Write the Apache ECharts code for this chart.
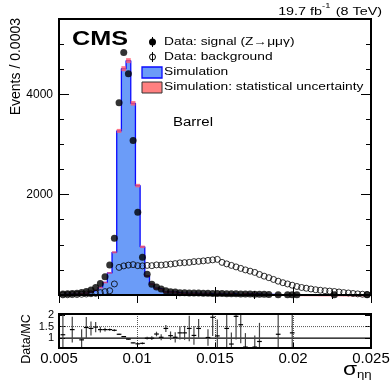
<!DOCTYPE html>
<html><head><meta charset="utf-8">
<script src="https://cdn.jsdelivr.net/npm/echarts@6/dist/echarts.min.js"></script>
<style>html,body{margin:0;padding:0;background:#fff}#c{width:390px;height:381px}</style>
</head><body><div id="c"></div>
<script>
const FONT = '"Liberation Sans", Arial, Helvetica, sans-serif';

// ---- data (bins of 0.0003 starting at 0.0051) ----
const binWidth = 0.0003;
const firstBinEdge = 0.0051;
const xMin = 0.005, xMax = 0.025;
const yMainMax = 5500;

const simValues = [15,18,22,26,35,48,70,100,150,250,440,850,3270,4510,4670,3820,2180,960,380,215,
  135,115,62,60,58,38,36,30,36,27,30,33,17,27,24,19,35,12,14,32,24,26,17,14,12,10,5,8,6,4,5,4,3,3,3,2,2,2,2,2,1,1,1,1,1,1];
const simErrors = [4,4,5,5,6,7,8,9,10,12,15,20,40,50,50,45,35,25,15,12,
  10,9,7,7,7,6,6,5,6,5,5,6,4,5,5,4,6,3,4,6,5,5,4,4,3,3,2,3,2,2,2,2,2,2,2,1,1,1,1,1,1,1,1,1,1,1];
const signalValues = [20,25,30,36,50,70,100,150,230,365,600,1130,3830,4830,4410,3080,1650,750,415,215,
  160,120,87,67,60,47,44,42,40,38,36,34,32,30,28,27,26,24,22,20,18,16,15,14,12,null,6,null,6,5,5,
  null,null,null,null,null,null,null,3,null,null,null,null,null,null,3];
const backgroundValues = [3,5,8,10,15,20,25,33,47,67,85,220,550,580,595,605,585,580,590,585,
  600,595,605,615,625,640,645,650,665,670,680,690,700,710,650,620,590,560,530,500,475,450,410,375,345,310,275,245,220,195,170,150,135,120,105,95,85,78,70,60,48,40,30,22,15,10];

const ratioX = [0.00525,0.00585,0.00645,0.00675,0.00705,0.00735,0.00765,0.00795,0.00825,0.00855,0.00885,0.00915,0.00945,0.00975,
  0.01005,0.01035,0.01065,0.01095,0.01125,0.01155,0.01185,0.01215,0.01245,0.01275,0.01305,0.01335,0.01365,0.01395,0.01455,0.01485,
  0.01515,0.01575,0.01605,0.01635,0.01665,0.01695,0.01755,0.01785,0.01905,0.01995];
const ratioY = [1.15,1.37,0.93,1.46,1.42,1.48,1.37,1.37,1.37,1.34,1.17,1.07,0.96,0.80,
  0.76,0.78,1.00,1.00,1.18,1.04,1.42,1.11,1.04,1.23,1.23,1.42,1.12,1.42,1.03,1.90,
  1.10,1.42,0.75,1.94,1.58,0.62,0.62,0.86,1.17,1.23];
const ratioErr = [0.9,0.55,0.45,0.45,0.3,0.22,0.12,0.08,0.05,0.04,0.02,0.02,0.02,0.02,
  0.03,0.04,0.06,0.08,0.1,0.13,0.15,0.18,0.22,0.28,0.3,0.55,0.4,0.4,0.35,0.8,
  0.7,0.9,0.5,1.0,0.8,0.6,0.5,0.8,1.0,1.0];
const ratioMin = 0.58, ratioMax = 2.04;
const ratioTicks = [1, 1.5, 2];
const refLines = [{v:1, type:'solid'}, {v:1.5, type:'dotted'}];

// ---- derived series data ----
const simStep = [[firstBinEdge, 0]];
simValues.forEach((v, i) => simStep.push([firstBinEdge + i * binWidth, v]));
simStep.push([firstBinEdge + simValues.length * binWidth, simValues[simValues.length - 1]]);
const simBoxes = simValues.map((v, i) => [firstBinEdge + i * binWidth, firstBinEdge + (i + 1) * binWidth, Math.max(0, v - simErrors[i]), v + simErrors[i]]);
const sigPts = [], bkgPts = [];
signalValues.forEach((v, i) => { if (v !== null) sigPts.push([firstBinEdge + (i + 0.5) * binWidth, v]); });
backgroundValues.forEach((v, i) => { if (v !== null) bkgPts.push([firstBinEdge + (i + 0.5) * binWidth, v]); });
const ratioData = ratioX.map((x, i) => [x, ratioY[i], ratioErr[i]]);

const chart = echarts.init(document.getElementById('c'), null, {renderer: 'canvas'});
const tickStyle = {color: '#000', width: 1};

function yAx(grid, pos, interval, len, labels) {
  return {
    type: 'value', gridIndex: grid, position: pos, min: 0, max: yMainMax, interval: interval,
    axisLine: {show: false}, splitLine: {show: false},
    axisTick: {show: true, inside: true, length: len, lineStyle: tickStyle},
    axisLabel: labels ? {show: true, color: '#000', fontFamily: FONT, fontSize: 12, margin: 6,
      formatter: v => (v > 0 && v % 2000 === 0) ? String(v) : ''} : {show: false}
  };
}

const option = {
  animation: false,
  backgroundColor: '#fff',
  grid: [
    {left: 59, top: 19, width: 312, height: 276, show: true, borderColor: '#000', borderWidth: 2, z: 10, outerBoundsMode: 'none', containLabel: false},
    {left: 59, top: 314, width: 312, height: 34, show: true, borderColor: '#000', borderWidth: 2, z: 10, outerBoundsMode: 'none', containLabel: false}
  ],
  xAxis: [
    {type: 'value', gridIndex: 0, min: xMin, max: xMax, interval: 0.005, position: 'bottom',
      axisLine: {show: false}, splitLine: {show: false}, axisLabel: {show: false},
      axisTick: {show: true, inside: true, length: 8, lineStyle: tickStyle},
      minorTick: {show: true, splitNumber: 2, length: 4, lineStyle: tickStyle}},
    {type: 'value', gridIndex: 0, min: xMin, max: xMax, interval: 0.005, position: 'top',
      axisLine: {show: false}, splitLine: {show: false}, axisLabel: {show: false},
      axisTick: {show: true, inside: true, length: 8, lineStyle: tickStyle},
      minorTick: {show: true, splitNumber: 2, length: 4, lineStyle: tickStyle}},
    {type: 'value', gridIndex: 1, min: xMin, max: xMax, interval: 0.005, position: 'bottom',
      axisLine: {show: false},
      splitLine: {show: true, lineStyle: {color: '#555', type: 'dotted', width: 1}},
      axisTick: {show: true, inside: true, length: 5, lineStyle: tickStyle},
      axisLabel: {show: true, color: '#000', fontFamily: FONT, fontSize: 15, margin: 3}}
  ],
  yAxis: [
    yAx(0, 'left', 2000, 10, true),
    yAx(0, 'left', 500, 5, false),
    yAx(0, 'right', 2000, 10, false),
    yAx(0, 'right', 500, 5, false),
    {type: 'value', gridIndex: 1, position: 'left', min: ratioMin, max: ratioMax,
      axisLine: {show: false}, splitLine: {show: false},
      axisTick: {show: true, inside: true, length: 6, lineStyle: tickStyle, customValues: ratioTicks},
      axisLabel: {show: true, color: '#000', fontFamily: FONT, fontSize: 11, margin: 5, customValues: ratioTicks}},
    {type: 'value', gridIndex: 1, position: 'right', min: ratioMin, max: ratioMax,
      axisLine: {show: false}, splitLine: {show: false},
      axisTick: {show: true, inside: true, length: 6, lineStyle: tickStyle, customValues: ratioTicks},
      axisLabel: {show: false}}
  ],
  series: [
    {type: 'line', name: 'Simulation', xAxisIndex: 0, yAxisIndex: 0, data: simStep, step: 'end',
      symbol: 'none', silent: true, z: 2,
      lineStyle: {color: '#0a0aff', width: 1.3}, areaStyle: {color: '#6b9cf8', opacity: 1}},
    {type: 'custom', name: 'Simulation: statistical uncertainty', xAxisIndex: 0, yAxisIndex: 0, z: 3, silent: true,
      data: simBoxes, encode: {x: [0, 1], y: [2, 3]},
      renderItem: (params, api) => {
        const p0 = api.coord([api.value(0), api.value(3)]);
        const p1 = api.coord([api.value(1), api.value(2)]);
        return {type: 'rect', shape: {x: p0[0], y: p0[1], width: p1[0] - p0[0], height: Math.max(p1[1] - p0[1], 1.5)},
          style: {fill: 'rgba(255,85,110,0.8)'}};
      }},
    {type: 'scatter', name: 'Data: background', xAxisIndex: 0, yAxisIndex: 0, data: bkgPts, z: 4, silent: true,
      symbol: 'circle', symbolSize: 6,
      itemStyle: {color: 'rgba(0,0,0,0)', borderColor: '#000', borderWidth: 1}},
    {type: 'scatter', name: 'Data: signal', xAxisIndex: 0, yAxisIndex: 0, data: sigPts, z: 5, silent: true,
      symbol: 'circle', symbolSize: 7, itemStyle: {color: '#000'}},
    ...refLines.map(r => ({type: 'line', xAxisIndex: 2, yAxisIndex: 4, data: [[xMin, r.v], [xMax, r.v]],
      symbol: 'none', silent: true, z: 2, lineStyle: {color: r.type === 'solid' ? '#000' : '#555', width: r.type === 'solid' ? 1.3 : 1, type: r.type}})),
    {type: 'custom', name: 'Data/MC', xAxisIndex: 2, yAxisIndex: 4, z: 4, silent: true,
      data: ratioData, encode: {x: 0, y: 1},
      renderItem: (params, api) => {
        const x = api.value(0), r = api.value(1), e = api.value(2);
        const cs = params.coordSys;
        const top = cs.y, bot = cs.y + cs.height;
        const pc = api.coord([x, r]);
        const pl = api.coord([x - binWidth / 2, r]);
        const pr = api.coord([x + binWidth / 2, r]);
        let yHi = api.coord([x, r + e])[1], yLo = api.coord([x, r - e])[1];
        yHi = Math.max(yHi, top); yLo = Math.min(yLo, bot);
        const ch = [{type: 'line', shape: {x1: pc[0], y1: yHi, x2: pc[0], y2: yLo}, style: {stroke: '#444', lineWidth: 1.2}}];
        if (pc[1] >= top && pc[1] <= bot) ch.push({type: 'line', shape: {x1: pl[0], y1: pc[1], x2: pr[0], y2: pc[1]}, style: {stroke: '#000', lineWidth: 1.2}});
        return {type: 'group', children: ch};
      }}
  ],
  graphic: [
    {type: 'text', x: 72, y: 39.5, scaleX: 1.2, z: 100, style: {text: 'CMS', font: 'bold 21px ' + FONT, fill: '#000', align: 'left', verticalAlign: 'middle'}},
    {type: 'text', x: 382, y: 10, scaleX: 1.25, z: 100, style: {
      text: '{n|19.7 fb}{s|-1}{n| (8 TeV)}', align: 'right', verticalAlign: 'middle', fill: '#000',
      rich: {n: {font: '11.5px ' + FONT, fill: '#000', lineHeight: 16, verticalAlign: 'bottom'},
             s: {font: '7.5px ' + FONT, fill: '#000', lineHeight: 8, verticalAlign: 'top', padding: [0, 1, 0, 0]}}}},
    {type: 'text', x: 16, y: 18, rotation: Math.PI / 2, z: 100, style: {text: 'Events / 0.0003', font: '14px ' + FONT, fill: '#000', align: 'right', verticalAlign: 'middle'}},
    {type: 'text', x: 27, y: 339, rotation: Math.PI / 2, z: 100, style: {text: 'Data/MC', font: '12.5px ' + FONT, fill: '#000', align: 'center', verticalAlign: 'middle'}},
    // legend markers
    {type: 'line', z: 100, shape: {x1: 152.5, y1: 37, x2: 152.5, y2: 47}, style: {stroke: '#000', lineWidth: 1}},
    {type: 'circle', z: 100, shape: {cx: 152.5, cy: 42, r: 3.5}, style: {fill: '#000'}},
    {type: 'line', z: 100, shape: {x1: 152.5, y1: 52, x2: 152.5, y2: 62}, style: {stroke: '#000', lineWidth: 1}},
    {type: 'circle', z: 100, shape: {cx: 152.5, cy: 57, r: 3}, style: {fill: 'none', stroke: '#000', lineWidth: 1}},
    {type: 'rect', z: 100, shape: {x: 142, y: 67, width: 20, height: 11}, style: {fill: '#6b9cf8', stroke: '#0a0aff', lineWidth: 1.3}},
    {type: 'rect', z: 100, shape: {x: 142, y: 82, width: 20, height: 11}, style: {fill: '#ff8080', stroke: '#333', lineWidth: 1}},
    {type: 'text', x: 164, y: 42, scaleX: 1.25, z: 100, style: {text: 'Data: signal (Z\u2192\u03bc\u03bc\u03b3)', font: '11px ' + FONT, fill: '#000', align: 'left', verticalAlign: 'middle'}},
    {type: 'text', x: 164, y: 57, scaleX: 1.25, z: 100, style: {text: 'Data: background', font: '11px ' + FONT, fill: '#000', align: 'left', verticalAlign: 'middle'}},
    {type: 'text', x: 164, y: 72, scaleX: 1.25, z: 100, style: {text: 'Simulation', font: '11px ' + FONT, fill: '#000', align: 'left', verticalAlign: 'middle'}},
    {type: 'text', x: 164, y: 87, scaleX: 1.25, z: 100, style: {text: 'Simulation: statistical uncertainty', font: '11px ' + FONT, fill: '#000', align: 'left', verticalAlign: 'middle'}},
    {type: 'text', x: 173, y: 123, scaleX: 1.25, z: 100, style: {text: 'Barrel', font: '12px ' + FONT, fill: '#000', align: 'left', verticalAlign: 'middle'}},
    // x-axis title
    {type: 'text', x: 343, y: 370, scaleX: 1.2, z: 100, style: {text: '\u03c3', font: '19px ' + FONT, fill: '#000', align: 'left', verticalAlign: 'middle'}},
    {type: 'text', x: 357, y: 375, scaleX: 1.2, z: 100, style: {text: '\u03b7\u03b7', font: '11px ' + FONT, fill: '#000', align: 'left', verticalAlign: 'middle'}}
  ]
};
chart.setOption(option);
</script>
</body></html>
